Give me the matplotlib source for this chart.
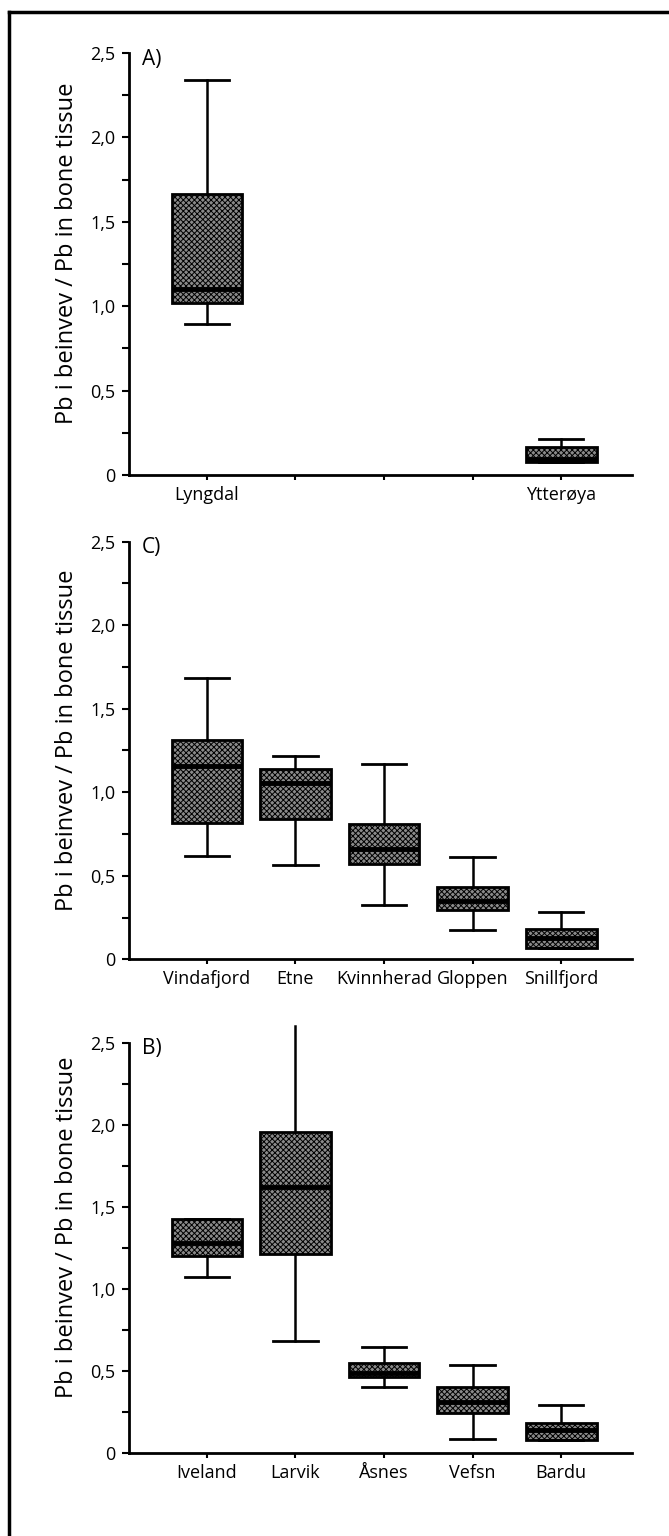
import numpy as np
import matplotlib
matplotlib.use("Agg")
import matplotlib.pyplot as plt
from matplotlib.lines import Line2D

plt.rcParams['font.family'] = ['Open Sans', 'DejaVu Sans']
plt.rcParams['hatch.linewidth'] = 0.7

# Box plot summaries: whislo, q1, median, q3, whishi
sites_a = ['Lyngdal', 'Ytterøya']
pos_a = [1, 5]
whislo_a = [0.895, 0.077]
q1_a = [1.02, 0.077]
med_a = [1.10, 0.095]
q3_a = [1.665, 0.166]
whishi_a = [2.34, 0.213]

sites_c = ['Vindafjord', 'Etne', 'Kvinnherad', 'Gloppen', 'Snillfjord']
whislo_c = [0.619, 0.563, 0.325, 0.176, 0.066]
q1_c = [0.814, 0.840, 0.569, 0.295, 0.066]
med_c = [1.157, 1.057, 0.660, 0.349, 0.126]
q3_c = [1.313, 1.137, 0.810, 0.435, 0.182]
whishi_c = [1.682, 1.217, 1.169, 0.611, 0.281]

sites_b = ['Iveland', 'Larvik', 'Åsnes', 'Vefsn', 'Bardu']
whislo_b = [1.075, 0.684, 0.406, 0.087, 0.081]
q1_b = [1.203, 1.213, 0.467, 0.244, 0.081]
med_b = [1.282, 1.623, 0.491, 0.315, 0.142]
q3_b = [1.427, 1.956, 0.548, 0.406, 0.187]
whishi_b = [1.427, 2.60, 0.645, 0.536, 0.294]

yticks = [0, 0.5, 1.0, 1.5, 2.0, 2.5]
yticklabels = ['0', '0,5', '1,0', '1,5', '2,0', '2,5']
ylabel = 'Pb i beinvev / Pb in bone tissue'

W, H = 669, 1536
fig = plt.figure(figsize=(W / 100, H / 100), dpi=100)


def make_stats(lo, q1, med, q3, hi):
    return [dict(whislo=a, q1=b, med=c, q3=d, whishi=e, fliers=[])
            for a, b, c, d, e in zip(lo, q1, med, q3, hi)]


def panel(rect, stats, positions, xlabels, letter, label_y):
    ax = fig.add_axes(rect)
    art = ax.bxp(stats, positions=positions, widths=0.8, capwidths=0.5,
                 patch_artist=True, showfliers=False,
                 boxprops=dict(facecolor='#8a8a8a', edgecolor='black',
                               linewidth=2, hatch='xxxxxx'),
                 medianprops=dict(color='black', linewidth=3.5),
                 whiskerprops=dict(color='black', linewidth=1.8),
                 capprops=dict(color='black', linewidth=2))
    for ln in art['whiskers'] + art['caps']:
        ln.set_clip_on(False)
    ax.set_xlim(0.12, 5.8)
    ax.set_ylim(0, 2.5)
    ax.set_xticks([1, 2, 3, 4, 5])
    ax.set_xticklabels(xlabels, fontsize=13)
    ax.set_yticks(yticks)
    ax.set_yticklabels(yticklabels, fontsize=13)
    ax.set_yticks(np.arange(0.25, 2.5, 0.5), minor=True)
    ax.tick_params(axis='y', which='both', direction='out', length=5,
                   width=1.5, pad=5)
    ax.tick_params(axis='x', direction='out', length=3.6, width=1.5, pad=4)
    for s in ['top', 'right']:
        ax.spines[s].set_visible(False)
    for s in ['left', 'bottom']:
        ax.spines[s].set_linewidth(2)
    ax.set_ylabel(ylabel, fontsize=17)
    ax.yaxis.set_label_coords(-0.10, label_y)
    ax.text(0.025, 0.985, letter, transform=ax.transAxes, fontsize=15,
            va='center', ha='left')
    return ax, art


left = 129 / W
width = (632 - 129) / W

ax_a, _ = panel([left, 1 - 475 / H, width, 422 / H],
                make_stats(whislo_a, q1_a, med_a, q3_a, whishi_a),
                pos_a, ['Lyngdal', '', '', '', 'Ytterøya'], 'A)', 0.525)

ax_c, _ = panel([left, 1 - 959.3 / H, width, 417.6 / H],
                make_stats(whislo_c, q1_c, med_c, q3_c, whishi_c),
                [1, 2, 3, 4, 5], sites_c, 'C)', 0.525)

ax_b, art_b = panel([left, 1 - 1453.3 / H, width, 410.6 / H],
                    make_stats(whislo_b, q1_b, med_b, q3_b, whishi_b),
                    [1, 2, 3, 4, 5], sites_b, 'B)', 0.55)
# Larvik's upper whisker runs off the top with no cap
art_b['caps'][3].set_visible(False)

# outer frame (top and left edges)
fig.add_artist(Line2D([9 / W, 1], [1 - 12 / H, 1 - 12 / H], color='black',
                      linewidth=2.5, transform=fig.transFigure))
fig.add_artist(Line2D([9 / W, 9 / W], [0, 1 - 12 / H], color='black',
                      linewidth=2.5, transform=fig.transFigure))

plt.savefig('out.png', dpi=100)
